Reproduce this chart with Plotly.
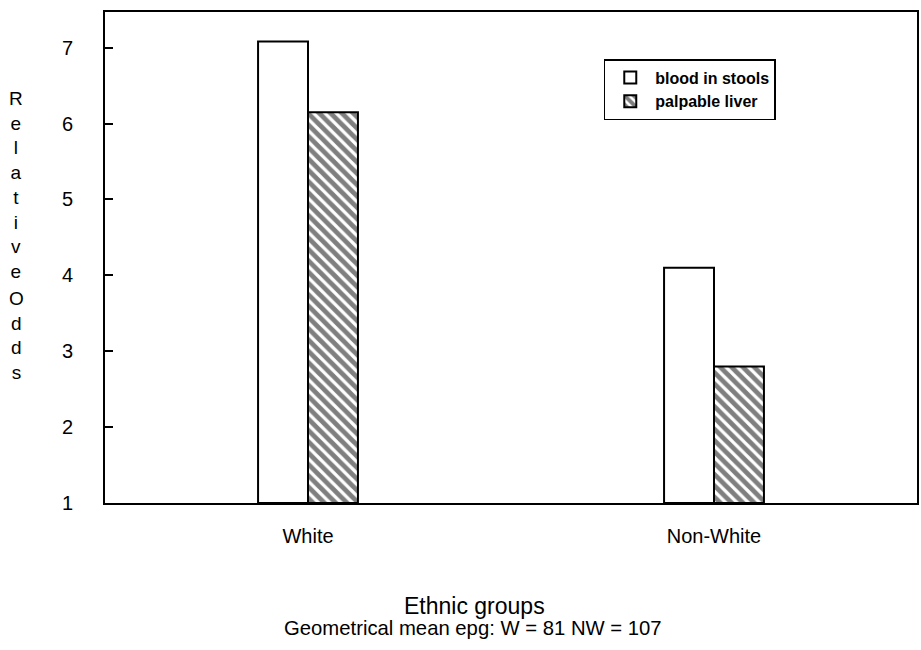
import plotly.graph_objects as go

categories = ["White", "Non-White"]
blood_in_stools = [7.08, 4.10]
palpable_liver = [6.15, 2.80]
y_ticks = [1, 2, 3, 4, 5, 6, 7]
y_tick_labels = ["1", "2", "3", "4", "5", "6", "7"]
baseline = 1

FONT = "Liberation Sans, Arial, Helvetica, sans-serif"

fig = go.Figure()
fig.add_trace(go.Bar(
    name="blood in stools", x=categories,
    y=[v - baseline for v in blood_in_stools], base=[baseline] * len(categories),
    marker=dict(color="white", line=dict(color="black", width=2)),
))
fig.add_trace(go.Bar(
    name="palpable liver", x=categories,
    y=[v - baseline for v in palpable_liver], base=[baseline] * len(categories),
    marker=dict(color="white", line=dict(color="black", width=2),
                pattern=dict(shape="\\", fgcolor="black", bgcolor="white",
                             size=8, solidity=0.6)),
))

W, H = 921, 650
L, R, T, B = 105, 2, 12, 147
pw, ph = W - L - R, H - T - B

fig.update_layout(
    width=W, height=H,
    margin=dict(l=L, r=R, t=T, b=B, pad=0),
    paper_bgcolor="white", plot_bgcolor="white",
    barmode="group", bargap=0.754, bargroupgap=0,
    font=dict(family=FONT, color="black"),
    showlegend=True,
    legend=dict(
        x=(605 - L) / pw, y=(H - B - 59) / ph, xanchor="left", yanchor="top",
        bordercolor="black", borderwidth=1.5, bgcolor="white",
        font=dict(family=FONT, size=16, color="black", weight="bold"),
        itemwidth=40, tracegroupgap=2,
    ),
    xaxis=dict(
        type="category", range=[-0.5, 1.5],
        showline=True, linecolor="black", linewidth=2, mirror=True,
        showgrid=False, ticks="", zeroline=False,
        tickfont=dict(family=FONT, size=20, color="black"),
        ticklabelstandoff=14,
    ),
    yaxis=dict(
        range=[1, 7.47], tickvals=y_ticks, ticktext=y_tick_labels,
        showline=True, linecolor="black", linewidth=2, mirror=True,
        showgrid=False, zeroline=False,
        ticks="inside", ticklen=8, tickwidth=2, tickcolor="black",
        tickfont=dict(family=FONT, size=20, color="black"),
        ticklabelstandoff=26,
    ),
)

def py(pix):
    return (H - B - pix) / ph

def px(pix):
    return (pix - L) / pw

fig.add_annotation(text="R<br>e<br>l<br>a<br>t<br>i<br>v<br>e", xref="paper", yref="paper",
                   x=px(16), y=py(98 - 12), xanchor="center", yanchor="top",
                   showarrow=False, font=dict(family=FONT, size=19, color="black"))
fig.add_annotation(text="O<br>d<br>d<br>s", xref="paper", yref="paper",
                   x=px(16), y=py(298 - 12), xanchor="center", yanchor="top",
                   showarrow=False, font=dict(family=FONT, size=19, color="black"))
fig.add_annotation(text="Ethnic groups", xref="paper", yref="paper",
                   x=px(475), y=py(606), xanchor="center", yanchor="middle",
                   showarrow=False, font=dict(family=FONT, size=23, color="black"))
fig.add_annotation(text="Geometrical mean epg: W = 81 NW = 107", xref="paper", yref="paper",
                   x=px(474), y=py(628), xanchor="center", yanchor="middle",
                   showarrow=False, font=dict(family=FONT, size=20.3, color="black"))

fig.write_html("out.html", config={"displayModeBar": False},
               post_script="document.body.style.margin='0';document.body.style.overflow='hidden';")
